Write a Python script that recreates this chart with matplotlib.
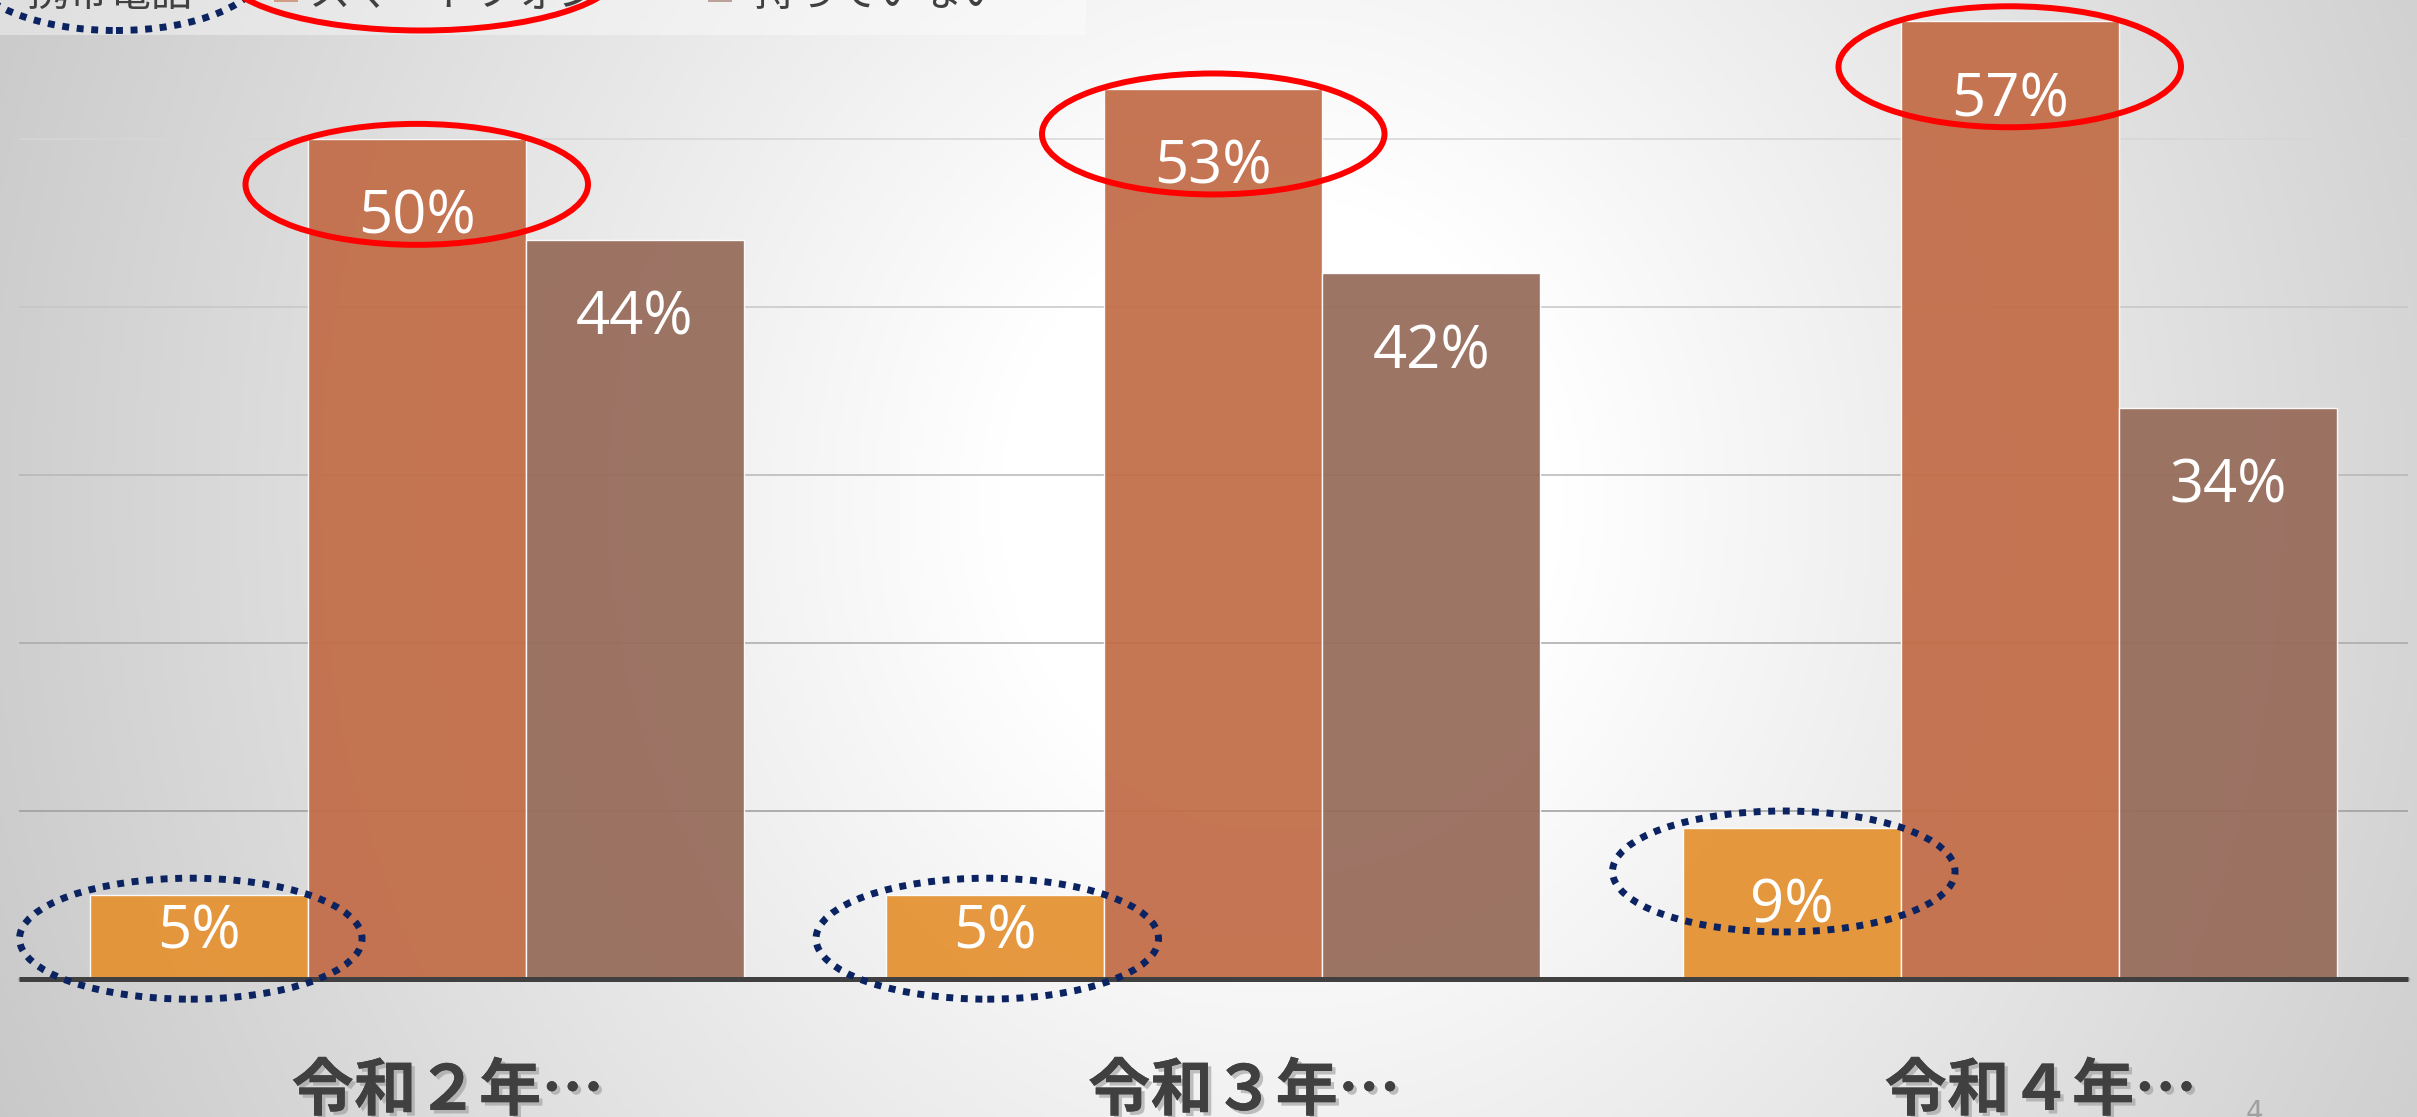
import numpy as np
import matplotlib
matplotlib.use("Agg")
import matplotlib.pyplot as plt
from matplotlib.patches import Ellipse, Rectangle
import matplotlib.patheffects as pe

# ---------------- data ----------------
categories = ["令和２年…", "令和３年…", "令和４年…"]
series_names = ["携帯電話", "スマートフォン", "持っていない"]
keitai = [5, 5, 9]
smartphone = [50, 53, 57]
none_owned = [44, 42, 34]
series_values = [keitai, smartphone, none_owned]
series_colors = ["#E59233", "#C26D48", "#976C5B"]
grid_values = [10, 20, 30, 40, 50]
grid_colors = ["#9c9c9c", "#a9a9a9", "#b6b6b6", "#c6c6c6", "#d6d6d6"]

W_PX, H_PX = 2417, 1117
DPI = 100
fig = plt.figure(figsize=(W_PX / DPI, H_PX / DPI), dpi=DPI)

# ---------------- background radial gradient ----------------
bg = fig.add_axes([0, 0, 1, 1], zorder=0)
yy, xx = np.mgrid[0:1:300j, 0:1:600j]
cx, cy = 0.53, 0.45
r = np.sqrt(((xx - cx) / 0.53) ** 2 + ((yy - cy) / 1.25) ** 2)
v = 1 - 0.19 * np.clip((r - 0.22) / (1 - 0.22), 0, 1.2)
img = np.dstack([v, v, v])
bg.imshow(img, extent=[0, 1, 0, 1], aspect="auto", origin="upper")
bg.set_xlim(0, 1)
bg.set_ylim(0, 1)
bg.axis("off")

# ---------------- main axes ----------------
left_px, right_px, base_px = 18.5, 2408, 979
px_per_pct = 16.80
ax = fig.add_axes([left_px / W_PX, (H_PX - base_px) / H_PX,
                   (right_px - left_px) / W_PX, base_px / H_PX], zorder=1)
ax.set_facecolor("none")
ax.set_xlim(-0.5, 2.5)
ax.set_ylim(0, base_px / px_per_pct)
for s in ax.spines.values():
    s.set_visible(False)
ax.set_xticks([])
ax.set_yticks([])

for g, c in zip(grid_values, grid_colors):
    ax.axhline(g, color=c, lw=1.1, zorder=1)

x = np.arange(len(categories))
bw = 0.2737
offsets = [-bw, 0, bw]
for vals, col, off in zip(series_values, series_colors, offsets):
    bars = ax.bar(x + off, vals, width=bw, color=col, alpha=0.94,
                  edgecolor=(1, 1, 1, 0.55), linewidth=1.0, zorder=2)
    for b, val in zip(bars, vals):
        h_px = val * px_per_pct
        off_px = min(95, 0.64 * h_px)
        ax.annotate(f"{val}%", xy=(b.get_x() + b.get_width() / 2, val),
                    xytext=(0, -off_px), textcoords="offset pixels",
                    ha="center", va="baseline", color="white",
                    fontsize=43, family=["Open Sans", "DejaVu Sans"], zorder=5)

# baseline axis line
ax.axhline(0, color="#b0b0b0", lw=2.5, zorder=3, clip_on=False)
ax.plot([-0.5, 2.5], [0, 0], color="#404040", lw=3.6, zorder=4,
        clip_on=False, solid_capstyle="butt")

# red ellipses around smartphone labels, navy dotted around keitai labels
ell_w, ell_h = 0.43, 7.2
for i in range(len(categories)):
    ax.add_patch(Ellipse((x[i], smartphone[i] - 2.7), ell_w, ell_h,
                         fill=False, ec="#FF0000", lw=4.3, zorder=6,
                         clip_on=False))
    ax.add_patch(Ellipse((x[i] - bw - 0.01, keitai[i] - 2.6), ell_w, ell_h,
                         fill=False, ec="#0B2461", lw=5.0,
                         ls=(0, (1, 1.1)), zorder=6, clip_on=False))

# category labels
for i, lab in enumerate(categories):
    ax.annotate(lab, xy=(x[i], 0), xytext=(31, -131),
                textcoords="offset pixels", ha="center", va="baseline",
                fontsize=45, fontweight="bold", color="#404040",
                family=["Noto Sans CJK JP", "DejaVu Sans"], annotation_clip=False,
                path_effects=[pe.withSimplePatchShadow(offset=(2.5, -2.5),
                                                       shadow_rgbFace="#9a9a9a",
                                                       alpha=0.6),
                              pe.Normal()])

# ---------------- overlay (pixel coords, y up) for cut-off legend ----------------
ov = fig.add_axes([0, 0, 1, 1], zorder=3)
ov.set_xlim(0, W_PX)
ov.set_ylim(0, H_PX)
ov.axis("off")
ov.patch.set_alpha(0)

ov.add_patch(Rectangle((0, H_PX - 35), 1086, 60, fc="white", alpha=0.4,
                       ec="none", zorder=1))
legend_text_x = [193, 309, 754]
legend_text_ha = ["right", "left", "left"]
marker_x = [None, 274, 708]
for name, tx, ha, mx, col in zip(series_names, legend_text_x, legend_text_ha,
                                 marker_x, series_colors):
    ov.text(tx, H_PX - 6, name, ha=ha, va="baseline", fontsize=30,
            color="#404040", family=["Noto Sans CJK JP", "DejaVu Sans"], zorder=3)
    if mx is not None:
        ov.add_patch(Rectangle((mx, H_PX - 2), 24, 30, fc=col, alpha=0.6,
                               ec="none", zorder=2))

ov.add_patch(Ellipse((116, H_PX + 31), 293, 123, fill=False, ec="#0B2461",
                     lw=5.0, ls=(0, (1, 1.1)), zorder=4, clip_on=False))
ov.add_patch(Ellipse((421, H_PX + 31), 401, 123, fill=False, ec="#FF0000",
                     lw=4.3, zorder=4, clip_on=False))

# page number (cut off)
ov.text(2254, 18, "4", ha="center", va="top", fontsize=20, color="#a0a0a0",
        family=["DejaVu Sans"], zorder=3)

fig.savefig("out.png", dpi=DPI)
